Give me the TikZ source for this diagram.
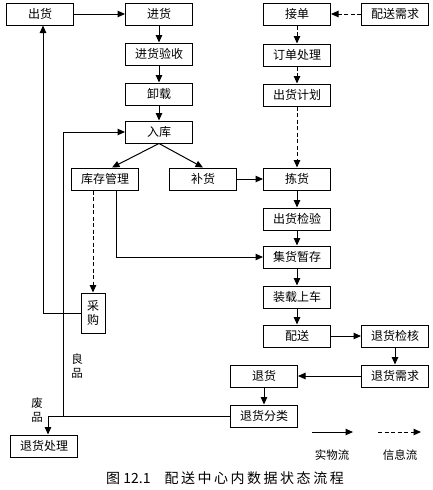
\documentclass[tikz,border=0pt]{standalone}
\usepackage{fontspec}
\setmainfont{Noto Sans CJK SC}
\newfontfamily\capfont[LetterSpace=18]{Noto Sans CJK SC}
\usetikzlibrary{positioning,arrows.meta}

\begin{document}
\begin{tikzpicture}[
  x=1pt, y=-1pt,
  font=\fontsize{12pt}{13pt}\selectfont,
  box/.style={draw, line width=1pt, minimum width=67pt, minimum height=22pt, inner sep=1pt},
  vbox/.style={box, minimum width=24pt, minimum height=40pt, align=center,
               font=\fontsize{12pt}{14.5pt}\selectfont},
  fl/.style={-{Triangle[length=7.5pt,width=6.5pt]}, line width=1pt},
  il/.style={fl, dash pattern=on 4pt off 2.5pt},
  lab/.style={inner sep=1pt, align=center, font=\fontsize{11.5pt}{14pt}\selectfont}
]
\useasboundingbox (0,0) rectangle (433,490);
% ----- inbound column -----
\node[box] (ch) at (40,14)   {出货};
\node[box] (jh) at (159,14)  {进货};
\node[box] (ys) at (159,54)  {进货验收};
\node[box] (xz) at (159,94)  {卸载};
\node[box] (rk) at (159,132) {入库};
\node[box] (kc) at (105,179) {库存管理};
\node[box] (bh) at (203,179) {补货};
\node[vbox] (cg) at (93,313) {采\\购};
% ----- order / outbound column -----
\node[box] (jd) at (297,14)  {接单};
\node[box] (xq) at (395,14)  {配送需求};
\node[box] (dd) at (297,55)  {订单处理};
\node[box] (jhh) at (297,95) {出货计划};
\node[box] (lh) at (297,179) {拣货};
\node[box] (jy) at (297,219) {出货检验};
\node[box] (jc) at (297,257) {集货暂存};
\node[box] (zz) at (297,297) {装载上车};
\node[box] (pz) at (297,336) {配送};
% ----- returns -----
\node[box] (tj) at (395,336) {退货检核};
\node[box] (tx) at (395,376) {退货需求};
\node[box] (th) at (264,376) {退货};
\node[box] (tf) at (264,416) {退货分类};
\node[box] (tc) at (44,446)  {退货处理};
\coordinate (gp) at (63,416);
% physical flow
\draw[fl] (ch) -- (jh);
\foreach \a/\b in {jh/ys, ys/xz, xz/rk, lh/jy, jy/jc, jc/zz, zz/pz, bh/lh, pz/tj, tj/tx, tx/th, th/tf}{\draw[fl] (\a) -- (\b);}
\draw[fl] (rk.south) -- ([xshift=7pt]kc.north);
\draw[fl] (rk.south) -- (bh.north);
\draw[fl] ([xshift=11pt]kc.south) |- (jc.west);
\draw[fl] (cg.west) -| ([xshift=3pt]ch.south);
\draw[fl] (tf.west) -| ([xshift=4pt]tc.north);
\draw[fl] (gp) |- (rk.west);
% information flow
\foreach \a/\b in {xq/jd, jd/dd, dd/jhh, jhh/lh}{\draw[il] (\a) -- (\b);}
\draw[il] (kc.south -| cg.north) -- (cg.north);
% ----- labels -----
\node[lab] (lp) at (77,366) {良\\品};
\node[lab] (fp) at (37,410) {废\\品};
% ----- legend -----
\coordinate (s1) at (312,432);
\coordinate (s2) at (353,432);
\coordinate (d1) at (378,432);
\coordinate (d2) at (421,432);
\draw[fl] (s1) -- (s2);
\draw[il] (d1) -- (d2);
\node[lab] (sw) at (332,455) {实物流};
\node[lab] (xx) at (400,455) {信息流};
% ----- caption -----
\node[inner sep=0pt, font=\fontsize{14pt}{16pt}\selectfont] (cap) at (225,478)
  {图 12.1\hspace{14pt}{\capfont 配送中心内数据状态流程}};
\end{tikzpicture}
\end{document}
